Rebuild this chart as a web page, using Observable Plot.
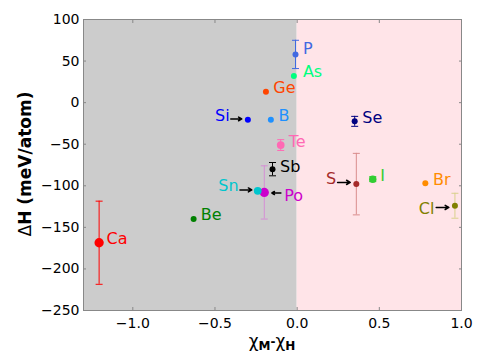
<!DOCTYPE html>
<html><head><meta charset="utf-8">
<script src="https://cdn.jsdelivr.net/npm/d3@7"></script>
<script src="https://cdn.jsdelivr.net/npm/@observablehq/plot@0.6"></script>
<style>body{margin:0;background:#fff}</style>
</head><body><div id="chart"></div>
<script>
// data
const elements = ["P","As","Ge","Si","B","Te","Sb","Sn","Po","Be","Ca","Se","S","I","Br","Cl"];
const chiDiff  = [-0.01,-0.02,-0.19,-0.30,-0.16,-0.10,-0.15,-0.24,-0.20,-0.63,-1.205,0.35,0.36,0.46,0.78,0.96];
const deltaH   = [58,32,13,-20.5,-20.5,-51,-80,-106,-108,-140,-168.5,-22.5,-98,-92,-97,-124];
const errH     = [17,0,0,0,0,6.5,8,0,32,0,50,6,37,3,0,15];
// label anchor points (data units)
const labelX = [0.035,0.035,-0.145,-0.50,-0.114,-0.051,-0.104,-0.48,-0.079,-0.587,-1.16,0.396,0.175,0.506,0.827,0.74];
const labelY = [64.6,36.5,17.7,-15.6,-15.6,-46.6,-76.7,-99.9,-111.9,-134.8,-164,-18.4,-91.8,-87.8,-92.7,-127.9];
// arrows
const arrowFrom = ["Si","Sn","Po","S","Cl"];
const arrowX1 = [-0.404,-0.348,-0.099,0.246,0.846];
const arrowX2 = [-0.337,-0.276,-0.154,0.323,0.923];
const arrowY  = [-19.6,-105,-108.7,-95.9,-126];
const xTicks = [-1.0,-0.5,0.0,0.5,1.0];
const yTicks = [-250,-200,-150,-100,-50,0,50,100];
const regions = [{x1:-1.3,x2:0,fill:"#cccccc"},{x1:0,x2:1.0,fill:"#ffe4e8"}];

// styles
const colors = {P:"#4169e1",As:"#00ff7f",Ge:"#ff4500",Si:"#0000ff",B:"#1e90ff",Te:"#ff69b4",Sb:"#000000",Sn:"#00c5cd",Po:"#cc00cc",Be:"#008000",Ca:"#ff0000",Se:"#000080",S:"#a52a2a",I:"#32cd32",Br:"#ff8c00",Cl:"#808000"};
const errColors = {Po:"#d58ed5",S:"#d98c8c",Cl:"#d9d18c"};
const radius = {Ca:4.3,Po:4.3,Te:3,Sn:3,I:2.8};

const pts = elements.map((e,i)=>({e,x:chiDiff[i],y:deltaH[i],err:errH[i],lx:labelX[i],ly:labelY[i]}));
const errPts = pts.filter(d=>d.err>0);
const caps = errPts.flatMap(d=>[{e:d.e,x:d.x,y:d.y+d.err},{e:d.e,x:d.x,y:d.y-d.err}]);
const arrows = arrowFrom.map((e,i)=>({e,x1:arrowX1[i],x2:arrowX2[i],y:arrowY[i]}));
const capSymbol = {draw(ctx,size){const w=3.5;ctx.moveTo(-w,0);ctx.lineTo(w,0);}};
const fmt = d => d.toFixed(1).replace("-","\u2212");
const fmtY = d => String(d).replace("-","\u2212");

const chart = Plot.plot({
  width:485, height:364,
  marginLeft:83, marginRight:24, marginTop:19, marginBottom:54,
  style:{fontFamily:"DejaVu Sans", fontSize:"14px", background:"#fff"},
  x:{domain:[-1.3,1.0]},
  y:{domain:[-250,100]},
  marks:[
    Plot.rectY(regions,{x1:"x1",x2:"x2",y1:-250,y2:100,fill:"fill"}),
    Plot.ruleX(errPts,{x:"x",y1:d=>d.y-d.err,y2:d=>d.y+d.err,stroke:d=>errColors[d.e]||colors[d.e],strokeWidth:1}),
    Plot.dot(caps,{x:"x",y:"y",symbol:capSymbol,stroke:d=>errColors[d.e]||colors[d.e],strokeWidth:1,fill:"none"}),
    Plot.dot(pts,{x:"x",y:"y",r:d=>radius[d.e]||1.8,fill:d=>colors[d.e],stroke:"none"}),
    Plot.arrow(arrows,{x1:"x1",x2:"x2",y1:"y",y2:"y",stroke:"black",strokeWidth:1.5,headLength:7}),
    Plot.text(pts,{x:"lx",y:"ly",text:"e",fill:d=>colors[d.e],textAnchor:"start",fontSize:16}),
    Plot.axisX(xTicks,{anchor:"bottom",tickSize:0,tickPadding:8,tickFormat:fmt,label:null,fill:"#000",fontSize:14}),
    Plot.axisY(yTicks,{anchor:"left",tickSize:0,tickPadding:4,tickFormat:fmtY,label:null,fill:"#000",fontSize:14}),
    Plot.axisX(xTicks,{anchor:"bottom",tickSize:-3,tickFormat:()=>"",label:null,stroke:"#888"}),
    Plot.axisX(xTicks,{anchor:"top",tickSize:-3,tickFormat:()=>"",label:null,stroke:"#888"}),
    Plot.axisY(yTicks,{anchor:"left",tickSize:-3,tickFormat:()=>"",label:null,stroke:"#888"}),
    Plot.axisY(yTicks,{anchor:"right",tickSize:-3,tickFormat:()=>"",label:null,stroke:"#888"}),
    Plot.frame({stroke:"#888",strokeWidth:1})
  ]
});
document.getElementById("chart").appendChild(chart);
const svg = d3.select(chart);
// axis titles
const yl = svg.append("text").attr("transform","translate(31,164) rotate(-90)")
  .attr("text-anchor","middle").attr("font-family","DejaVu Sans").attr("font-size",17).attr("fill","#000");
yl.append("tspan").text("\u0394");
yl.append("tspan").attr("font-weight","bold").text("H (meV/atom)");
const xl = svg.append("text").attr("x",272).attr("y",347).attr("text-anchor","middle")
  .attr("font-family","DejaVu Sans").attr("font-size",17).attr("fill","#000");
xl.append("tspan").text("\u03c7");
xl.append("tspan").attr("font-weight","bold").attr("font-size",12).attr("dy",3).text("M");
xl.append("tspan").attr("font-weight","bold").attr("font-size",12).attr("dy",-4).text("-");
xl.append("tspan").attr("dy",1).text("\u03c7");
xl.append("tspan").attr("font-weight","bold").attr("font-size",12).attr("dy",3).text("H");
</script></body></html>
